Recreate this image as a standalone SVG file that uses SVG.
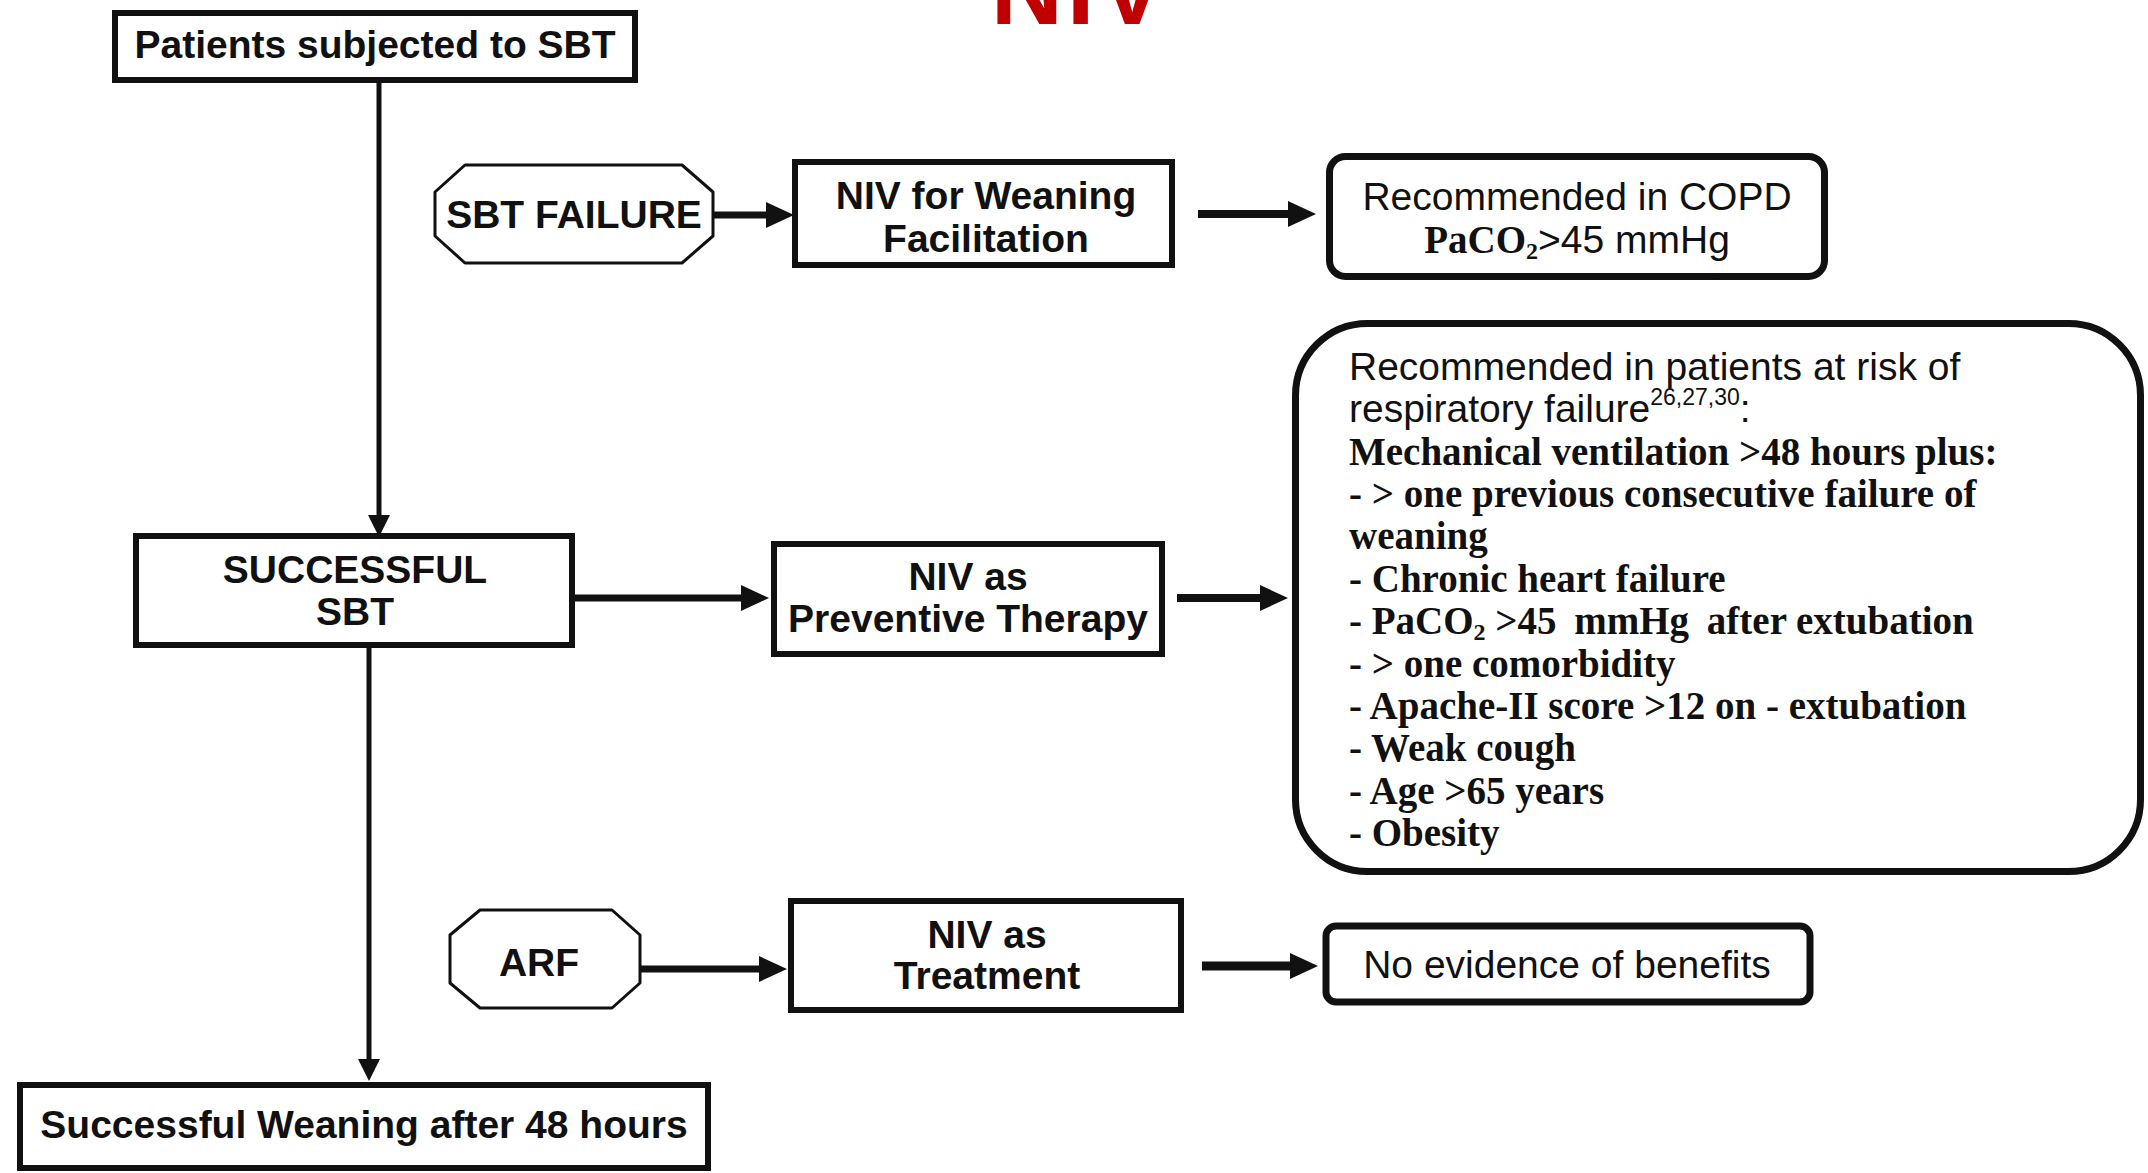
<svg xmlns="http://www.w3.org/2000/svg" width="2148" height="1173" viewBox="0 0 2148 1173">
<defs>
<style>
.box{fill:#fff;stroke:#111;stroke-width:6}
.oct{fill:#fff;stroke:#111;stroke-width:3;stroke-linejoin:round}
.rbox{fill:#fff;stroke:#111;stroke-width:7}
.sb{font-family:"Liberation Sans",Arial,sans-serif;font-weight:bold;font-size:39px;fill:#111;text-anchor:middle}
.sr{font-family:"Liberation Sans",Arial,sans-serif;font-size:39px;fill:#111}
.tb{font-family:"Liberation Serif","Times New Roman",serif;font-weight:bold;font-size:39px;fill:#111}
.sub{font-size:24px}
.sup{font-size:23px}
.ln{fill:none;stroke:#111;stroke-linecap:butt}
</style>
<marker id="ah" markerUnits="userSpaceOnUse" markerWidth="28" markerHeight="26" refX="0" refY="13" orient="auto">
<path d="M0,0 L28,13 L0,26 z" fill="#111"/>
</marker>
<marker id="av" markerUnits="userSpaceOnUse" markerWidth="22" markerHeight="22" refX="0" refY="11" orient="auto">
<path d="M0,0 L22,11 L0,22 z" fill="#111"/>
</marker>
</defs>
<rect width="2148" height="1173" fill="#fff"/>

<g id="title">
<text x="1080" y="24" font-family="'Liberation Sans',Arial,sans-serif" font-weight="bold" font-size="100" letter-spacing="4" fill="#c00000" text-anchor="middle">NIV</text>
</g>

<g id="connectors">
<line class="ln" x1="379" y1="82" x2="379" y2="515" stroke-width="5" marker-end="url(#av)"/>
<line class="ln" x1="369" y1="648" x2="369" y2="1059" stroke-width="5" marker-end="url(#av)"/>
<line class="ln" x1="714" y1="215" x2="766" y2="215" stroke-width="7" marker-end="url(#ah)"/>
<line class="ln" x1="1198" y1="214" x2="1288" y2="214" stroke-width="8" marker-end="url(#ah)"/>
<line class="ln" x1="575" y1="598" x2="741" y2="598" stroke-width="7" marker-end="url(#ah)"/>
<line class="ln" x1="1177" y1="598" x2="1260" y2="598" stroke-width="8" marker-end="url(#ah)"/>
<line class="ln" x1="641" y1="969" x2="759" y2="969" stroke-width="7" marker-end="url(#ah)"/>
<line class="ln" x1="1202" y1="966" x2="1290" y2="966" stroke-width="9" marker-end="url(#ah)"/>
</g>

<g id="patients">
<rect class="box" x="115" y="13" width="520" height="67" stroke-width="5"/>
<text class="sb" x="375" y="58">Patients subjected to SBT</text>
</g>

<g id="sbt-failure">
<polygon class="oct" points="465,165 682,165 713,192 713,236 682,263 465,263 435,236 435,192"/>
<text class="sb" x="574" y="228">SBT FAILURE</text>
</g>

<g id="niv-weaning">
<rect class="box" x="795" y="162" width="377" height="103"/>
<text class="sb" x="986" y="209">NIV for Weaning</text>
<text class="sb" x="986" y="252">Facilitation</text>
</g>

<g id="copd">
<rect class="rbox" x="1329.5" y="156.5" width="495" height="120" rx="16"/>
<text class="sr" x="1577" y="210" text-anchor="middle">Recommended in COPD</text>
<text class="sr" x="1577" y="253" text-anchor="middle"><tspan class="tb">PaCO<tspan class="sub" dy="6">2</tspan></tspan><tspan dy="-6">&gt;45 mmHg</tspan></text>
</g>

<g id="successful-sbt">
<rect class="box" x="136" y="536" width="436" height="109"/>
<text class="sb" x="355" y="583">SUCCESSFUL</text>
<text class="sb" x="355" y="625">SBT</text>
</g>

<g id="niv-preventive">
<rect class="box" x="774" y="544" width="388" height="110"/>
<text class="sb" x="968" y="590">NIV as</text>
<text class="sb" x="968" y="632">Preventive Therapy</text>
</g>

<g id="risk-criteria">
<rect class="rbox" x="1295.5" y="323.5" width="845" height="548" rx="72"/>
<text class="sr" x="1349" y="380">Recommended in patients at risk of</text>
<text class="sr" x="1349" y="422">respiratory failure<tspan class="sup" dy="-17">26,27,30</tspan><tspan dy="17">:</tspan></text>
<text class="tb" x="1349" y="465">Mechanical ventilation &gt;48 hours plus:</text>
<text class="tb" x="1349" y="507">- &gt; one previous consecutive failure of</text>
<text class="tb" x="1349" y="549">weaning</text>
<text class="tb" x="1349" y="592">- Chronic heart failure</text>
<text class="tb" x="1349" y="634">- PaCO<tspan class="sub" dy="6">2</tspan><tspan dy="-6"> &gt;45</tspan><tspan dx="8"> mmHg</tspan><tspan dx="8"> after extubation</tspan></text>
<text class="tb" x="1349" y="677">- &gt; one comorbidity</text>
<text class="tb" x="1349" y="719">- Apache-II score &gt;12 on - extubation</text>
<text class="tb" x="1349" y="761">- Weak cough</text>
<text class="tb" x="1349" y="804">- Age &gt;65 years</text>
<text class="tb" x="1349" y="846">- Obesity</text>
</g>

<g id="arf">
<polygon class="oct" points="480,910 612,910 640,935 640,983 612,1008 480,1008 450,983 450,935"/>
<text class="sb" x="539" y="976">ARF</text>
</g>

<g id="niv-treatment">
<rect class="box" x="791" y="901" width="390" height="109"/>
<text class="sb" x="987" y="948">NIV as</text>
<text class="sb" x="987" y="989">Treatment</text>
</g>

<g id="no-evidence">
<rect class="rbox" x="1326" y="926" width="484" height="76" rx="10" stroke-width="6"/>
<text class="sr" x="1567" y="978" text-anchor="middle">No evidence of benefits</text>
</g>

<g id="successful-weaning">
<rect class="box" x="20" y="1085" width="688" height="83"/>
<text class="sb" x="364" y="1138">Successful Weaning after 48 hours</text>
</g>
</svg>
